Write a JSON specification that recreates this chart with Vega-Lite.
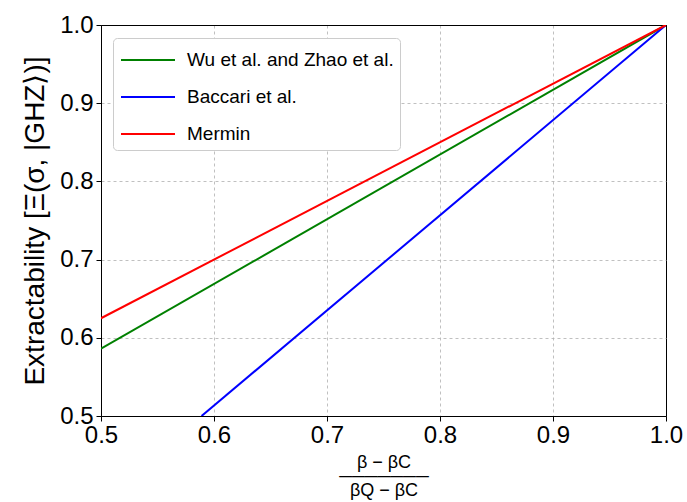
{
  "$schema": "https://vega.github.io/schema/vega-lite/v6.json",
  "autosize": "none",
  "width": 565,
  "height": 391,
  "padding": {"left": 101, "top": 25, "right": 21, "bottom": 86},
  "background": "white",
  "config": {
    "font": "Liberation Sans",
    "view": {"stroke": "black", "strokeWidth": 1},
    "axis": {
      "domainColor": "black",
      "tickColor": "black",
      "tickSize": 5,
      "labelFontSize": 24,
      "labelColor": "black",
      "titleColor": "black",
      "titleFontWeight": "normal",
      "gridColor": {"condition": {"test": "datum.value == 1", "value": "black"}, "value": "#b0b0b0"},
      "gridDash": {"condition": {"test": "datum.value == 1", "value": []}, "value": [3, 3]},
      "gridWidth": {"condition": {"test": "datum.value == 1", "value": 1}, "value": 0.8},
      "labelFlush": false,
      "labelFont": "Liberation Sans",
      "titleFont": "Liberation Sans"
    }
  },
  "data": {
    "values": [
      {"x": 0.5, "y": 0.586, "series": "Wu et al. and Zhao et al."},
      {"x": 1.0, "y": 1.0, "series": "Wu et al. and Zhao et al."},
      {"x": 0.589, "y": 0.5, "series": "Baccari et al."},
      {"x": 1.0, "y": 1.0, "series": "Baccari et al."},
      {"x": 0.5, "y": 0.625, "series": "Mermin"},
      {"x": 1.0, "y": 1.0, "series": "Mermin"}
    ]
  },
  "mark": {"type": "line", "strokeWidth": 2, "clip": true},
  "encoding": {
    "x": {
      "field": "x",
      "type": "quantitative",
      "scale": {"domain": [0.5, 1.0], "nice": false, "zero": false},
      "axis": {
        "values": [0.5, 0.6, 0.7, 0.8, 0.9, 1.0],
        "format": ".1f",
        "labelPadding": 2,
        "title": ["β − βC", "───────", "βQ − βC"],
        "titleFontSize": 18,
        "titleLineHeight": 14,
        "titlePadding": 6
      }
    },
    "y": {
      "field": "y",
      "type": "quantitative",
      "scale": {"domain": [0.5, 1.0], "nice": false, "zero": false},
      "axis": {
        "values": [0.5, 0.6, 0.7, 0.8, 0.9, 1.0],
        "format": ".1f",
        "labelPadding": 3,
        "title": "Extractability [Ξ(σ, |GHZ⟩)]",
        "titleFontSize": 28,
        "titlePadding": 10
      }
    },
    "color": {
      "field": "series",
      "type": "nominal",
      "sort": ["Wu et al. and Zhao et al.", "Baccari et al.", "Mermin"],
      "scale": {
        "domain": ["Wu et al. and Zhao et al.", "Baccari et al.", "Mermin"],
        "range": ["#008000", "#0000ff", "#ff0000"]
      },
      "legend": {
        "title": null,
        "orient": "none",
        "legendX": 12,
        "legendY": 13,
        "symbolType": "M-1.8,0H1.8",
        "symbolSize": 900,
        "symbolStrokeWidth": 2,
        "symbolOffset": 13,
        "labelFontSize": 19,
        "labelLimit": 0,
        "labelColor": "black",
        "labelOffset": 23,
        "rowPadding": 11,
        "padding": 6,
        "strokeColor": "#cccccc",
        "cornerRadius": 4,
        "fillColor": "white"
      }
    }
  }
}
